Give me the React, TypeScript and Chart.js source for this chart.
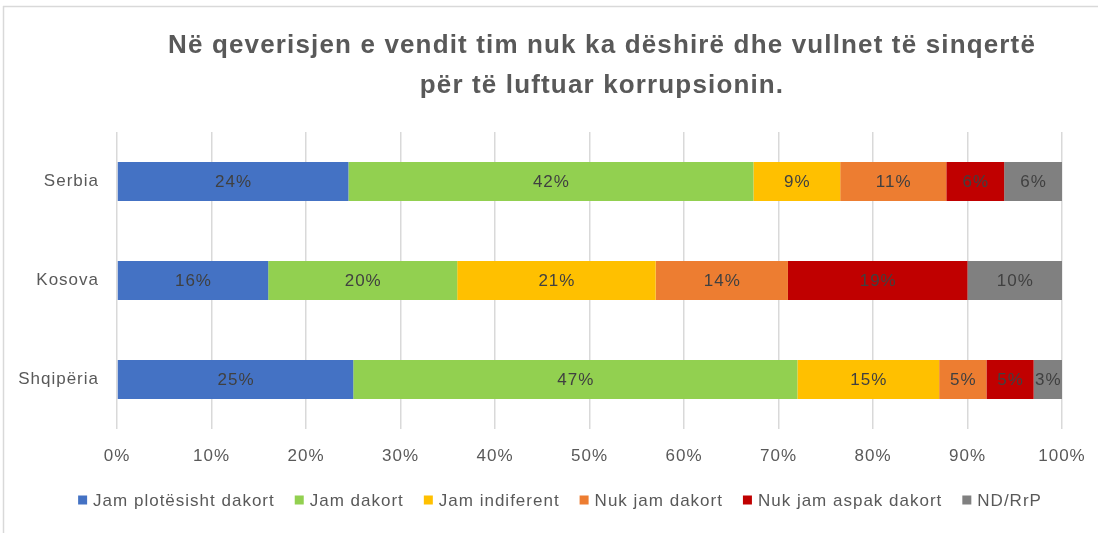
import React, { useEffect, useRef } from "react";
import { Chart, registerables } from "chart.js";

Chart.register(...registerables);

const titleLines = [
  "Në qeverisjen e vendit tim nuk ka dëshirë dhe vullnet të sinqertë",
  "për të luftuar korrupsionin.",
];
const categories = ["Serbia", "Kosova", "Shqipëria"];
const seriesNames = [
  "Jam plotësisht dakort",
  "Jam dakort",
  "Jam indiferent",
  "Nuk jam dakort",
  "Nuk jam aspak dakort",
  "ND/RrP",
];
const plotesishtDakort = [24, 16, 25];
const dakort = [42, 20, 47];
const indiferent = [9, 21, 15];
const nukDakort = [11, 14, 5];
const aspakDakort = [6, 19, 5];
const ndRrp = [6, 10, 3];
const seriesColors = ["#4472C4", "#92D050", "#FFC000", "#ED7D31", "#C00000", "#808080"];
const xTickMin = 0;
const xTickMax = 100;
const xTickStep = 10;

const FONT = "'Liberation Sans', Arial, sans-serif";

export default function App() {
  const ref = useRef<HTMLCanvasElement | null>(null);

  useEffect(() => {
    document.body.style.margin = "0";
    const series = [plotesishtDakort, dakort, indiferent, nukDakort, aspakDakort, ndRrp];
    const totals = categories.map((_, i) => series.reduce((s, arr) => s + arr[i], 0));
    const datasets = series.map((arr, k) => ({
      label: seriesNames[k],
      data: arr.map((v, i) => (v / totals[i]) * 100),
      raw: arr,
      backgroundColor: seriesColors[k],
      borderWidth: 0,
      barPercentage: 0.394,
      categoryPercentage: 1,
    }));

    const framePlugin = {
      id: "frame",
      beforeDraw(chart: any) {
        const { ctx, width, height } = chart;
        ctx.save();
        ctx.fillStyle = "#ffffff";
        ctx.fillRect(0, 0, width, height);
        ctx.strokeStyle = "#d9d9d9";
        ctx.lineWidth = 1.5;
        ctx.beginPath();
        ctx.moveTo(3, 6.5);
        ctx.lineTo(width, 6.5);
        ctx.moveTo(3.5, 6);
        ctx.lineTo(3.5, height);
        ctx.stroke();
        ctx.fillStyle = "#595959";
        ctx.font = `bold 26px ${FONT}`;
        (ctx as any).letterSpacing = "1.15px";
        ctx.textAlign = "center";
        ctx.textBaseline = "alphabetic";
        ctx.fillText(titleLines[0], 602, 53);
        ctx.fillText(titleLines[1], 602, 93);
        ctx.restore();
        (ctx as any).letterSpacing = "1px";
      },
    };

    const labelPlugin = {
      id: "segLabels",
      afterDatasetsDraw(chart: any) {
        const { ctx } = chart;
        ctx.save();
        (ctx as any).letterSpacing = "1px";
        ctx.font = `17px ${FONT}`;
        ctx.fillStyle = "#404040";
        ctx.textAlign = "center";
        ctx.textBaseline = "middle";
        chart.data.datasets.forEach((ds: any, k: number) => {
          const meta = chart.getDatasetMeta(k);
          meta.data.forEach((el: any, i: number) => {
            const c = el.getCenterPoint();
            ctx.fillText(ds.raw[i] + "%", c.x + 0.5, c.y + 1);
          });
        });
        ctx.restore();
      },
    };

    const legendPlugin = {
      id: "customLegend",
      afterDraw(chart: any) {
        const { ctx } = chart;
        ctx.save();
        (ctx as any).letterSpacing = "1px";
        ctx.font = `17px ${FONT}`;
        ctx.textBaseline = "middle";
        ctx.textAlign = "left";
        const box = 9;
        const gapBoxText = 6;
        const gapItems = 20;
        const items = chart.data.datasets.map((ds: any) => ({
          label: ds.label,
          color: ds.backgroundColor,
          w: ctx.measureText(ds.label).width,
        }));
        const total =
          items.reduce((s: number, it: any) => s + box + gapBoxText + it.w, 0) +
          gapItems * (items.length - 1);
        let x = 560 - total / 2;
        const cy = 500;
        items.forEach((it: any) => {
          ctx.fillStyle = it.color;
          ctx.fillRect(x, cy - box / 2, box, box);
          x += box + gapBoxText;
          ctx.fillStyle = "#595959";
          ctx.fillText(it.label, x, cy + 1);
          x += it.w + gapItems;
        });
        ctx.restore();
      },
    };

    const chart = new Chart(ref.current as HTMLCanvasElement, {
      type: "bar",
      data: { labels: categories, datasets: datasets as any },
      options: {
        indexAxis: "y",
        animation: false,
        responsive: false,
        maintainAspectRatio: false,
        layout: { padding: { top: 132, right: 36, bottom: 67, left: 0 } },
        scales: {
          x: {
            stacked: true,
            min: xTickMin,
            max: xTickMax,
            ticks: {
              stepSize: xTickStep,
              callback: (v: any) => v + "%",
              color: "#595959",
              font: { family: FONT, size: 17 },
              padding: 17,
              maxRotation: 0,
            },
            grid: { color: "#d9d9d9", lineWidth: 1.5, drawTicks: false },
            border: { display: false },
            afterFit: (scale: any) => {
              scale.height = 37;
              scale.paddingLeft = 0;
              scale.paddingRight = 0;
              scale.paddingTop = 0;
              scale.paddingBottom = 0;
            },
          },
          y: {
            stacked: true,
            ticks: {
              color: "#595959",
              font: { family: FONT, size: 17 },
              padding: 18,
            },
            grid: { display: false, drawTicks: false },
            border: { display: false },
            afterFit: (scale: any) => {
              scale.width = 117;
              scale.paddingTop = 0;
              scale.paddingBottom = 0;
              scale.paddingLeft = 0;
              scale.paddingRight = 0;
            },
          },
        },
        plugins: {
          title: { display: false },
          tooltip: { enabled: false },
          legend: { display: false },
        },
      } as any,
      plugins: [framePlugin, labelPlugin, legendPlugin],
    });
    return () => chart.destroy();
  }, []);

  return (
    <div style={{ position: "absolute", left: 0, top: 0, width: 1098, height: 533 }}>
      <canvas ref={ref} width={1098} height={533} style={{ width: 1098, height: 533, display: "block" }} />
    </div>
  );
}
